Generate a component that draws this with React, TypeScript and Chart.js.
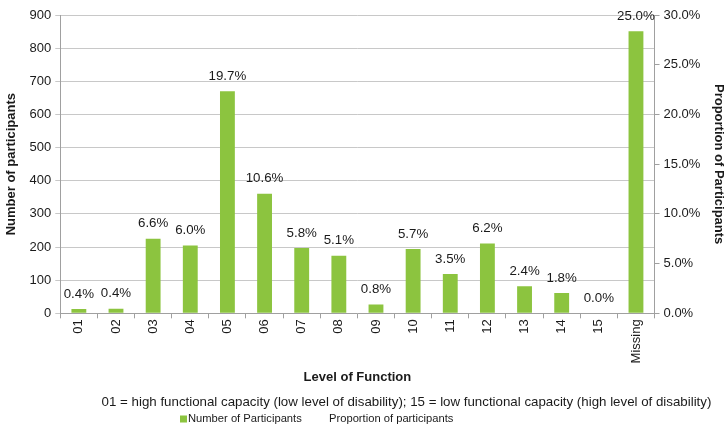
import React, { useEffect, useRef } from "react";
import { Chart, registerables } from "chart.js";

Chart.register(...registerables);

const categories = ["01", "02", "03", "04", "05", "06", "07", "08", "09", "10", "11", "12", "13", "14", "15", "Missing"];
const participants = [13, 14, 225, 205, 670, 361, 197, 174, 27, 194, 119, 211, 82, 61, 0, 851];
const proportions = [0.004, 0.004, 0.066, 0.06, 0.197, 0.106, 0.058, 0.051, 0.008, 0.057, 0.035, 0.062, 0.024, 0.018, 0.0, 0.25];
const leftTicks = [0, 900, 100];
const rightTicks = [0, 0.3, 0.05];
const noteText = "01 = high functional capacity (low level of disability); 15 = low functional capacity (high level of disability)";

const GREEN = "#8CC43F";
const FONT = "'Liberation Sans', Arial, sans-serif";
const TEXT = "#1a1a1a";

const labelPlugin = {
  id: "barLabels",
  afterDatasetsDraw(chart: any) {
    const ctx = chart.ctx;
    const meta = chart.getDatasetMeta(0);
    const props = chart.data.datasets[1].data as number[];
    ctx.save();
    ctx.font = `13.3px ${FONT}`;
    ctx.fillStyle = TEXT;
    ctx.textAlign = "center";
    ctx.textBaseline = "middle";
    meta.data.forEach((bar: any, i: number) => {
      const txt = (props[i] * 100).toFixed(1) + "%";
      ctx.fillText(txt, bar.x, bar.y - 15);
    });
    ctx.restore();
  },
};

const bottomPlugin = {
  id: "bottomNotes",
  afterDraw(chart: any) {
    const ctx = chart.ctx;
    const h = chart.height;
    ctx.save();
    ctx.font = `13.3px ${FONT}`;
    ctx.fillStyle = TEXT;
    ctx.textBaseline = "middle";
    ctx.textAlign = "center";
    ctx.fillText(noteText, 406.5, h - 27);
    const ds = chart.data.datasets;
    const ly = h - 10.5;
    ctx.font = `11.2px ${FONT}`;
    ctx.textAlign = "left";
    ctx.fillStyle = ds[0].backgroundColor;
    ctx.fillRect(180, ly - 3, 7, 7);
    ctx.fillStyle = TEXT;
    ctx.fillText(ds[0].label, 188, ly);
    ctx.fillText(ds[1].label, 329, ly);
    ctx.restore();
  },
};

export default function App() {
  const ref = useRef<HTMLCanvasElement>(null);
  useEffect(() => {
    document.body.style.margin = "0";
    const chart = new Chart(ref.current!, {
      type: "bar",
      data: {
        labels: categories,
        datasets: [
          {
            label: "Number of Participants",
            data: participants,
            backgroundColor: GREEN,
            borderWidth: 0,
            barPercentage: 0.4,
            categoryPercentage: 1,
            yAxisID: "y",
            order: 1,
          },
          {
            type: "line",
            label: "Proportion of participants",
            data: proportions,
            yAxisID: "y1",
            showLine: false,
            pointRadius: 0,
            borderColor: "transparent",
            backgroundColor: "transparent",
            order: 0,
          } as any,
        ],
      },
      options: {
        responsive: false,
        animation: false,
        layout: { padding: { top: 15, left: 4, right: 2, bottom: 44 } },
        plugins: {
          legend: { display: false },
          tooltip: { enabled: false },
        },
        scales: {
          x: {
            grid: { display: true, drawOnChartArea: false, drawTicks: true, tickLength: 5, color: "#a0a0a0" },
            border: { display: true, color: "#a0a0a0" },
            ticks: { minRotation: 90, maxRotation: 90, color: TEXT, font: { family: FONT, size: 13 }, padding: 1 },
            title: { display: true, text: "Level of Function", color: TEXT, font: { family: FONT, size: 13, weight: "bold" }, padding: { top: 5, bottom: 0 } },
          },
          y: {
            position: "left",
            min: leftTicks[0],
            max: leftTicks[1],
            ticks: { stepSize: leftTicks[2], color: TEXT, font: { family: FONT, size: 13 }, padding: 4 },
            grid: { color: "#c8c8c8", tickLength: 5, drawTicks: true },
            border: { display: true, color: "#a0a0a0" },
            title: { display: true, text: "Number of participants", color: TEXT, font: { family: FONT, size: 13, weight: "bold" }, padding: { top: 0, bottom: 6 } },
          },
          y1: {
            position: "right",
            min: rightTicks[0],
            max: rightTicks[1],
            ticks: {
              stepSize: rightTicks[2],
              color: TEXT,
              font: { family: FONT, size: 13 },
              padding: 4,
              callback: (v: any) => (Number(v) * 100).toFixed(1) + "%",
            },
            grid: { drawOnChartArea: false, drawTicks: true, tickLength: 5, color: "#a0a0a0" },
            border: { display: true, color: "#a0a0a0" },
            title: { display: true, text: "Proportion of Participants", color: TEXT, font: { family: FONT, size: 13, weight: "bold" }, padding: { top: 0, bottom: 6 } },
          },
        },
      },
      plugins: [labelPlugin, bottomPlugin],
    });
    return () => chart.destroy();
  }, []);
  return (
    <div style={{ width: 728, height: 429 }}>
      <canvas ref={ref} width={728} height={429} />
    </div>
  );
}
